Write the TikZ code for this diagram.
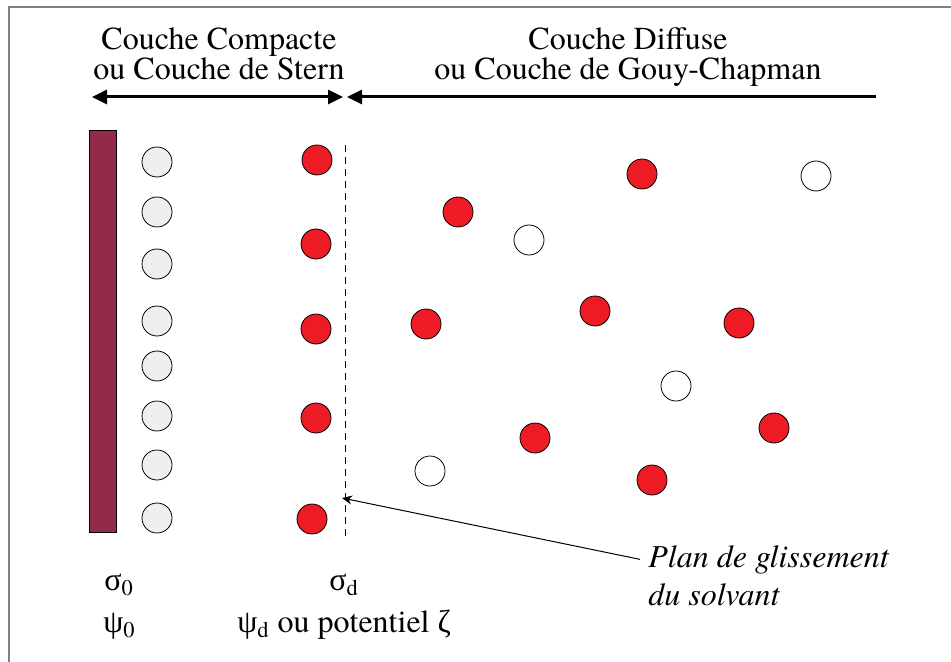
\documentclass[tikz,border=0pt]{standalone}
\usepackage{fontspec}
\setmainfont{texgyretermes}[Extension=.otf,UprightFont=*-regular,ItalicFont=*-italic,BoldFont=*-bold,BoldItalicFont=*-bolditalic]
\newfontfamily\greekfont{Liberation Serif}
\usetikzlibrary{arrows.meta}

\definecolor{wallred}{RGB}{146,42,72}
\definecolor{ionred}{RGB}{237,28,36}
\definecolor{iongray}{RGB}{238,239,241}

\begin{document}
\begin{tikzpicture}[x=0.5pt,y=-0.5pt,
	ion/.style={draw,circle,inner sep=0pt,minimum size=15pt,line width=0.4pt},
	lbl/.style={inner sep=0pt,font=\fontsize{16}{15}\selectfont},
	note/.style={inner sep=0pt,font=\fontsize{16}{15}\selectfont\itshape},
	>={Triangle[length=7.5pt,width=7pt]}]
\useasboundingbox (0,0) rectangle (951,662);
\draw [gray,line width=1pt] (951,7) -- (9,7) -- (9,662);

% paroi chargee
\node[draw,fill=wallred,inner sep=0pt,minimum width=13.5pt,minimum height=201pt,line width=0.4pt] (wall) at (102.5,331) {};

% molecules de solvant
\foreach \y [count=\i] in {162,212,264,321,366,416,465,518}
	{
	\node[ion,fill=iongray] (solv\i) at (157,\y) {};
	}

% ions de la couche de Stern
\foreach \x/\y [count=\i] in {317/160,316/244,316/329,316/418,312/519}
	{
	\node[ion,fill=ionred] (stern\i) at (\x,\y) {};
	}

% couche diffuse
\foreach \x/\y [count=\i] in {642/174,458/212,595/311,426/324,739/323,535/438,774/428,652/480}
	{
	\node[ion,fill=ionred] (diffr\i) at (\x,\y) {};
	}
\foreach \x/\y [count=\i] in {816/176,529/240,676/386,430/471}
	{
	\node[ion,fill=white] (diffw\i) at (\x,\y) {};
	}

% plan de glissement
\coordinate (planTop) at (345,145);
\coordinate (planBot) at (345,537);
\draw [dash pattern=on 3.5pt off 2.5pt,line width=0.4pt] (planTop) -- (planBot);

% titres
\node[lbl,anchor=base] (comp1) at (219,50) {Couche Compacte};
\node[lbl,anchor=base] (comp2) at (219,80) {ou Couche de Stern};
\node[lbl,anchor=base] (diff1) at (628,50) {Couche Diffuse};
\node[lbl,anchor=base] (diff2) at (628,80) {ou Couche de Gouy-Chapman};

\coordinate (compL) at (92,97);
\coordinate (compR) at (343,97);
\coordinate (diffL) at (347,97);
\coordinate (diffR) at (876,97);
\draw [line width=1.5pt,<->] (compL) -- (compR);
\draw [line width=1.5pt,<-] (diffL) -- (diffR);

% legendes du bas
\node[lbl,anchor=base west] (sigma0) at (104,590) {{\greekfont σ}\textsubscript{0}};
\node[lbl,anchor=base west] (psi0) at (103,632) {{\greekfont ψ}\textsubscript{0}};
\node[lbl,anchor=base west] (sigmad) at (329,590) {{\greekfont σ}\textsubscript{d}};
\node[lbl,anchor=base west] (psid) at (237,632) {{\greekfont ψ}\textsubscript{d} ou potentiel {\greekfont ζ}};

% annotation
\node[note,anchor=base west] (plan1) at (648,567) {Plan de glissement};
\node[note,anchor=base west] (plan2) at (648,605) {du solvant};
\coordinate (glis) at (342,498);
\draw [line width=0.5pt,-{Stealth[length=5pt,width=4.5pt]}] ([xshift=-4pt]plan1.west) -- (glis);
\end{tikzpicture}
\end{document}
